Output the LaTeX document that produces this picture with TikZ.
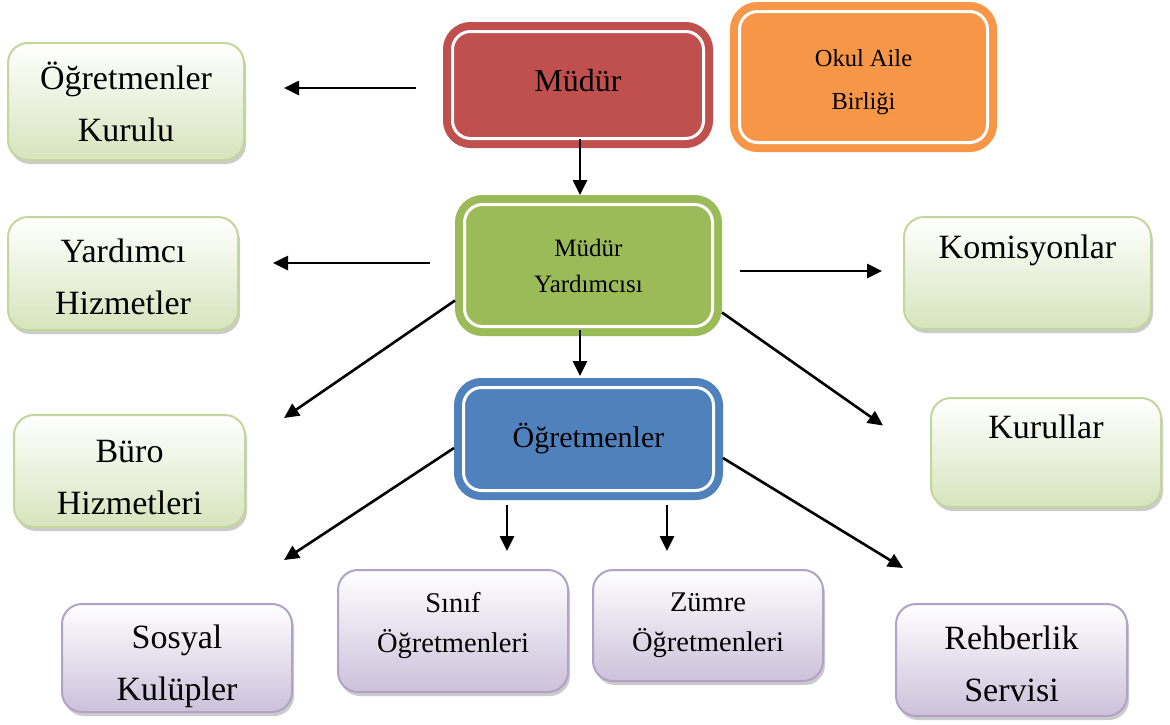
\documentclass[tikz,border=0pt]{standalone}
\usepackage{fontspec}
\setmainfont{Liberation Serif}
\usetikzlibrary{arrows.meta,shadows}
\definecolor{mudurred}{HTML}{C0504D}
\definecolor{aileorange}{HTML}{F79646}
\definecolor{yardgreen}{HTML}{9BBB59}
\definecolor{ogrblue}{HTML}{4F81BD}
\definecolor{leafgreen}{HTML}{D7E4BD}
\definecolor{leafgreenline}{HTML}{C3D69B}
\definecolor{leafpurple}{HTML}{CCC1DA}
\definecolor{leafpurpleline}{HTML}{B3A2C7}
\tikzset{
  head/.style={fill=#1, preaction={draw=#1, line width=19pt}, draw=white, line width=3pt, rounded corners=18pt, outer sep=9.5pt},
  leaf/.style={line width=2pt, rounded corners=20pt, top color=white, drop shadow={shadow xshift=2pt, shadow yshift=-4pt, fill=black!40, opacity=.5}},
  greenleaf/.style={leaf, draw=leafgreenline, bottom color=leafgreen},
  purpleleaf/.style={leaf, draw=leafpurpleline, bottom color=leafpurple},
  txtl/.style={font=\fontsize{34}{52}\selectfont},
  txtm/.style={font=\fontsize{28.5}{40}\selectfont},
  arr/.style={line width=2.6pt, -{Triangle[length=15pt,width=14pt]}}
}

\begin{document}
\begin{tikzpicture}[x=1pt,y=-1pt]
\tikzstyle{every node}=[align=center, inner sep=0pt]
	\fill[white] (0,0) rectangle (1170,724);
	\useasboundingbox (0,0) rectangle (1170,724);

	% top row
	\node[head=mudurred, minimum width=251pt, minimum height=107pt, font=\fontsize{32}{40}\selectfont] (mudur) at (578,85) {Müdür\\[-31pt]\mbox{}};
	\node[head=aileorange, minimum width=248pt, minimum height=131pt, font=\fontsize{24.5}{43}\selectfont] (aile) at (863.5,77) {\mbox{}\\[-15pt]Okul Aile\\Birliği};
	\node[greenleaf, txtl, minimum width=236pt, minimum height=117pt] (ogk) at (126,101.5) {Öğretmenler\\Kurulu};

	% middle
	\node[head=yardgreen, minimum width=248pt, minimum height=122pt, font=\fontsize{25}{36}\selectfont] (my) at (588.5,265.5) {Müdür\\Yardımcısı};
	\node[greenleaf, txtl, minimum width=230pt, minimum height=113pt] (yh) at (123,273.5) {\mbox{}\\[-21pt]Yardımcı\\Hizmetler};
	\node[greenleaf, txtl, minimum width=247pt, minimum height=112pt] (kom) at (1027.5,273) {Komisyonlar\\\mbox{}};
	\node[greenleaf, txtl, minimum width=231pt, minimum height=112pt] (buro) at (129.5,471) {\mbox{}\\[-17pt]Büro\\Hizmetleri};
	\node[greenleaf, txtl, minimum width=230pt, minimum height=109pt] (kur) at (1046,452.5) {Kurullar\\\mbox{}};
	\node[head=ogrblue, minimum width=250pt, minimum height=103pt, font=\fontsize{30}{40}\selectfont] (ogr) at (588.5,439) {Öğretmenler};

	% bottom row
	\node[purpleleaf, txtl, minimum width=230pt, minimum height=108pt] (sos) at (177,658) {\mbox{}\\[-11pt]Sosyal\\Kulüpler};
	\node[purpleleaf, txtm, minimum width=230pt, minimum height=122pt] (sinif) at (453,631) {Sınıf\\Öğretmenleri\\[-22pt]\mbox{}};
	\node[purpleleaf, txtm, minimum width=230pt, minimum height=111pt] (zumre) at (708,625.5) {Zümre\\Öğretmenleri};
	\node[purpleleaf, txtl, minimum width=231pt, minimum height=112pt] (reh) at (1011.5,660) {\mbox{}\\[-21pt]Rehberlik\\Servisi};

	% arrows
	\draw[arr, shorten <=27pt, shorten >=39pt] ([yshift=-3pt]mudur.west) -- ([yshift=-3pt]mudur.west -| ogk.east);
	\draw[arr, shorten <=-9pt] ([xshift=2pt]mudur.south) -- ([xshift=2pt]mudur.south |- my.north);
	\draw[arr, shorten <=25pt, shorten >=34pt] ([yshift=2.5pt]my.west) -- ([yshift=2.5pt]my.west -| yh.east);
	\draw[arr, shorten <=18pt, shorten >=21pt] ([yshift=-5.5pt]my.east) -- ([yshift=-5.5pt]my.east -| kom.west);
	\draw[arr] ([yshift=-35pt]my.west) -- ([xshift=38pt,yshift=-4pt]buro.north east);
	\draw[arr] ([yshift=-47pt]my.east) -- ([xshift=-47pt,yshift=27pt]kur.west);
	\draw[arr, shorten <=-6pt, shorten >=2pt] ([xshift=-8.5pt]my.south) -- ([xshift=-8.5pt]my.south |- ogr.north);
	\draw[arr] ([yshift=-9pt]ogr.west) -- ([xshift=-9pt,yshift=43pt]sos.north east);
	\draw[arr, shorten <=5pt, shorten >=18pt] ([xshift=-81.5pt]ogr.south) -- ([xshift=-81.5pt]ogr.south |- sinif.north);
	\draw[arr, shorten <=5pt, shorten >=18pt] ([xshift=78.5pt]ogr.south) -- ([xshift=78.5pt]ogr.south |- zumre.north);
	\draw[arr] ([yshift=-19pt]ogr.east) -- ([xshift=8pt,yshift=35pt]reh.north west);
\end{tikzpicture}
\end{document}
